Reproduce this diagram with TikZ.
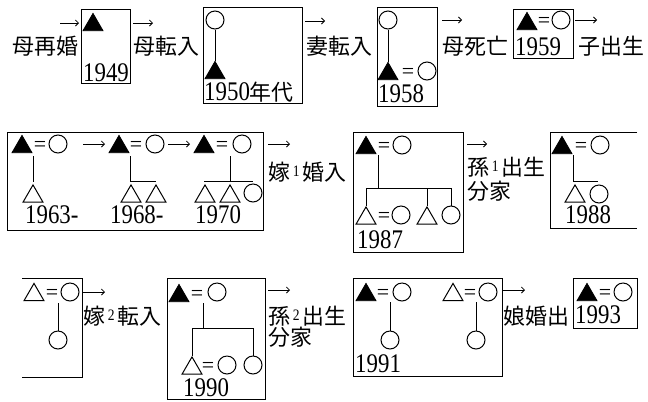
\documentclass[tikz,border=0pt]{standalone}
\usepackage{fontspec}
\setmainfont{Liberation Serif}
\newfontfamily\jpf{Noto Sans CJK JP}
\newfontfamily\dgf[FakeStretch=0.85]{Liberation Serif}
\usetikzlibrary{shapes.geometric,arrows.meta}
\tikzset{
 bx/.style={draw,line width=0.9bp},
 ln/.style={line width=1bp},
 ftri/.style={regular polygon,regular polygon sides=3,draw,fill=black,minimum size=23bp,inner sep=0pt,yshift=-2.9bp,line width=0.8bp},
 otri/.style={regular polygon,regular polygon sides=3,draw,minimum size=23bp,inner sep=0pt,yshift=-2.9bp,line width=1bp},
 circ/.style={circle,draw,minimum size=18bp,inner sep=0pt,line width=1bp},
 eq/.style={inner sep=0pt,yshift=-2.2bp,font=\fontsize{22}{22}\selectfont},
 yr/.style={anchor=base west,inner sep=0pt,font=\fontsize{27}{27}\dgf},
 jp/.style={anchor=west,inner sep=0pt,font=\fontsize{22}{22}\jpf},
 arr/.style={line width=0.8bp,-{Straight Barb[length=3bp,width=6bp]}},
}
\newcommand{\sups}[1]{\raisebox{4bp}{\fontsize{16}{16}\dgf\,#1\,}}
\begin{document}
\begin{tikzpicture}[x=1bp,y=-1bp]
\useasboundingbox (0,0) rectangle (648,401);
% ---------- Row 1 ----------
\coordinate (ar1s) at (60,23); \coordinate (ar1e) at (79,23);
\draw[arr] (ar1s) -- (ar1e);
\node[jp] (t1) at (12,46) {母再婚};
\draw[bx] (81,9) rectangle (130,83);
\node[ftri] (A1) at (93,22) {};
\node[yr] (A1y) at (83,81) {1949};
\coordinate (ar2s) at (133,23); \coordinate (ar2e) at (153,23);
\draw[arr] (ar2s) -- (ar2e);
\node[jp] (t2) at (133,46) {母転入};

\draw[bx] (203,7) rectangle (302,103);
\node[circ] (B1) at (215,20) {};
\node[ftri] (B2) at (215,70) {};
\draw[ln] (B1) -- (B2);
\node[anchor=base west,inner sep=0pt] (By) at (204,100) {\fontsize{27}{27}\dgf 1950\fontsize{22}{22}\jpf 年代};
\coordinate (ar3s) at (305,21); \coordinate (ar3e) at (325,21);
\draw[arr] (ar3s) -- (ar3e);
\node[jp] (t3) at (306,46) {妻転入};

\draw[bx] (377,7) rectangle (437,106);
\node[circ] (C1) at (388,20) {};
\node[ftri] (C2) at (388,71) {};
\node[eq] (C3) at (408,71) {=};
\node[circ] (C4) at (427,71) {};
\draw[ln] (C1) -- (C2);
\node[yr] (Cy) at (378,102) {1958};
\coordinate (ar4s) at (442,20); \coordinate (ar4e) at (462,20);
\draw[arr] (ar4s) -- (ar4e);
\node[jp] (t4) at (442,46) {母死亡};

\draw[bx] (513,9) rectangle (573,58);
\node[ftri] (D1) at (527,21) {};
\node[eq] (D2) at (544,20) {=};
\node[circ] (D3) at (561,20) {};
\node[yr] (Dy) at (515,55) {1959};
\coordinate (ar5s) at (575,20); \coordinate (ar5e) at (597,20);
\draw[arr] (ar5s) -- (ar5e);
\node[jp] (t5) at (578,46) {子出生};

% ---------- Row 2 ----------
\draw[bx] (7,132) rectangle (263,230);
\node[ftri] (E1) at (22,144) {};
\node[eq] (E2) at (40,144) {=};
\node[circ] (E3) at (58,144) {};
\coordinate (e1) at (33,156); \coordinate (e1b) at (33,182);
\node[otri] (E4) at (33,193.5) {};
\draw[ln] (e1) -- (e1b);
\node[yr] (E1y) at (25,223) {1963-};
\coordinate (ar6s) at (83,144); \coordinate (ar6e) at (105,144);
\draw[arr] (ar6s) -- (ar6e);

\node[ftri] (E5) at (119,144) {};
\node[eq] (E6) at (136,144) {=};
\node[circ] (E7) at (155,144) {};
\coordinate (e2) at (130,156); \coordinate (e2b) at (156,181);
\draw[ln] (e2) |- (e2b);
\node[otri] (E8) at (131,193.5) {};
\node[otri] (E9) at (156,193.5) {};
\node[yr] (E2y) at (110,223) {1968-};
\coordinate (ar7s) at (168,144); \coordinate (ar7e) at (190,144);
\draw[arr] (ar7s) -- (ar7e);

\node[ftri] (E10) at (204,144) {};
\node[eq] (E11) at (222,144) {=};
\node[circ] (E12) at (242,144) {};
\coordinate (e3) at (230,156); \coordinate (e3b) at (230,181);
\coordinate (e3l) at (204,181); \coordinate (e3r) at (253,181);
\draw[ln] (e3) -- (e3b);
\draw[ln] (e3l) -- (e3r);
\node[otri] (E13) at (205,193.5) {};
\node[otri] (E14) at (230,193.5) {};
\node[circ] (E15) at (253,193) {};
\node[yr] (E3y) at (195,223) {1970};
\coordinate (ar8s) at (268,144); \coordinate (ar8e) at (290,144);
\draw[arr] (ar8s) -- (ar8e);
\node[jp] (t6) at (268,172) {嫁\sups{1}婚入};

\draw[bx] (353,132) rectangle (463,252);
\node[ftri] (G1) at (366,145) {};
\node[eq] (G2) at (384,145) {=};
\node[circ] (G3) at (402,145) {};
\node[otri] (G4) at (366,215.5) {};
\node[eq] (G5) at (384,215) {=};
\node[circ] (G6) at (401,215) {};
\node[otri] (G7) at (427,215.5) {};
\node[circ] (G8) at (451,215) {};
\coordinate (g0) at (378,155); \coordinate (g1) at (378,188);
\draw[ln] (g0) -- (g1);
\draw[ln] (G4.north) |- (G8.north |- g1) -- (G8.north);
\draw[ln] (G7.north) -- (G7.north |- g1);
\node[yr] (Gy) at (357,248) {1987};
\coordinate (ar9s) at (467,144); \coordinate (ar9e) at (487,144);
\draw[arr] (ar9s) -- (ar9e);
\node[jp] (t7) at (467,167) {孫\sups{1}出生};
\node[jp] (t8) at (467,191) {分家};

\draw[bx] (637,132) -- (550,132) -- (550,228) -- (637,228);
\node[ftri] (H1) at (562,145) {};
\node[eq] (H2) at (581,145) {=};
\node[circ] (H3) at (600,145) {};
\coordinate (h0) at (573,155); \coordinate (h1) at (598,181);
\draw[ln] (h0) |- (h1);
\node[otri] (H4) at (575,193.5) {};
\node[circ] (H5) at (599,194) {};
\node[yr] (Hy) at (565,223) {1988};

% ---------- Row 3 ----------
\draw[bx] (22,278) -- (82,278) -- (82,377) -- (22,377);
\node[otri] (I1) at (34,292) {};
\node[eq] (I2) at (52,292) {=};
\node[circ] (I3) at (70,292) {};
\coordinate (i0) at (58,303);
\node[circ] (I4) at (58,340) {};
\draw[ln] (i0) -- (I4);
\coordinate (ar10s) at (83,292); \coordinate (ar10e) at (105,292);
\draw[arr] (ar10s) -- (ar10e);
\node[jp] (t9) at (83,316) {嫁\sups{2}転入};

\draw[bx] (167,278) rectangle (265,399);
\node[ftri] (J1) at (179,293) {};
\node[eq] (J2) at (197,293) {=};
\node[circ] (J3) at (217,292) {};
\coordinate (j0) at (203,303); \coordinate (j1) at (203,328);
\draw[ln] (j0) -- (j1);
\node[otri] (J4) at (192,365.5) {};
\node[eq] (J5) at (208,365) {=};
\node[circ] (J6) at (227,365) {};
\node[circ] (J7) at (253,365) {};
\draw[ln] (J4.north) |- (J7.north |- j1) -- (J7.north);
\node[yr] (Jy) at (183,396) {1990};
\coordinate (ar11s) at (268,290); \coordinate (ar11e) at (290,290);
\draw[arr] (ar11s) -- (ar11e);
\node[jp] (t10) at (268,316) {孫\sups{2}出生};
\node[jp] (t11) at (268,337) {分家};

\draw[bx] (353,278) rectangle (502,376);
\node[ftri] (K1) at (366,292) {};
\node[eq] (K2) at (383,292) {=};
\node[circ] (K3) at (402,292) {};
\coordinate (k0) at (390,302);
\node[circ] (K4) at (390,340) {};
\draw[ln] (k0) -- (K4);
\node[otri] (K5) at (453,292) {};
\node[eq] (K6) at (470,292) {=};
\node[circ] (K7) at (488,292) {};
\coordinate (k1) at (476,302);
\node[circ] (K8) at (476,340) {};
\draw[ln] (k1) -- (K8);
\node[yr] (Ky) at (355,372) {1991};
\coordinate (ar12s) at (503,290); \coordinate (ar12e) at (525,290);
\draw[arr] (ar12s) -- (ar12e);
\node[jp] (t12) at (503,316) {娘婚出};

\draw[bx] (573,278) rectangle (637,328);
\node[ftri] (L1) at (587,292) {};
\node[eq] (L2) at (605,292) {=};
\node[circ] (L3) at (623,292) {};
\node[yr] (Ly) at (575,323) {1993};
\end{tikzpicture}
\end{document}
